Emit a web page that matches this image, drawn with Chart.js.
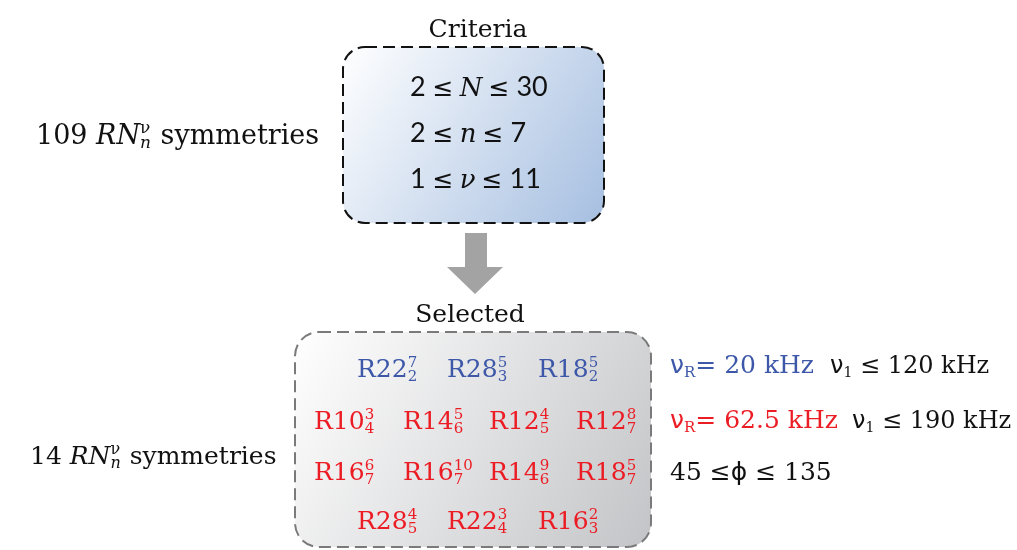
<!DOCTYPE html>
<html>
<head>
<meta charset="utf-8">
<script src="https://cdn.jsdelivr.net/npm/chart.js@4.4.1/dist/chart.umd.min.js"></script>
<style>
  body { margin: 0; background: #fff; }
  #wrap { width: 1017px; height: 550px; }
</style>
</head>
<body>
<div id="wrap"><canvas id="c"></canvas></div>
<script>
// counts shown on the left
const totalCount = 109;
const selectedCount = 14;

// search criteria: lo <= symbol <= hi
const criteria = [
  { lo: 2, sym: 'N', hi: 30 },
  { lo: 2, sym: 'n', hi: 7 },
  { lo: 1, sym: 'ν', hi: 11 }
];

// selected RN_n^v symmetries  [N, n, v]
const blueSymmetries = [[22, 2, 7], [28, 3, 5], [18, 2, 5]];
const redSymmetries = [
  [10, 4, 3], [14, 6, 5], [12, 5, 4], [12, 7, 8],
  [16, 7, 6], [16, 7, 10], [14, 6, 9], [18, 7, 5],
  [28, 5, 4], [22, 4, 3], [16, 3, 2]
];

// MAS rate (kHz) and max rf amplitude (kHz)
const spinRates = ['20', '62.5'];
const rfLimits = ['120', '190'];
const phaseRange = [45, 135];

const BLUE = '#3d58a9';
const RED = '#ec1c24';
const SERIF = '"DejaVu Serif", serif';
const SANS = 'Lato, "DejaVu Sans", sans-serif';
const DVS = '"DejaVu Sans", sans-serif';

function runFont(r, size) {
  return (r.style || '') + ' ' + size + 'px ' + (r.fam || SERIF);
}

function runWidth(ctx, r) {
  if (r.sup !== undefined) {
    ctx.font = runFont(r, r.small);
    return Math.max(ctx.measureText(r.sup).width, ctx.measureText(r.sub).width) + 1;
  }
  ctx.font = runFont(r, r.size);
  return ctx.measureText(r.t).width;
}

function drawRuns(ctx, x, y, runs, align) {
  let w = 0;
  runs.forEach(r => { w += runWidth(ctx, r); });
  if (align === 'center') x -= w / 2;
  ctx.textBaseline = 'alphabetic';
  ctx.textAlign = 'left';
  runs.forEach(r => {
    const rw = runWidth(ctx, r);
    ctx.fillStyle = r.color || '#111';
    if (r.sup !== undefined) {
      ctx.font = runFont(r, r.small);
      ctx.fillText(r.sup, x, y - r.size * 0.42);
      ctx.font = runFont({ fam: r.subFam || r.fam, style: r.subStyle }, r.small);
      ctx.fillText(r.sub, x, y + r.size * 0.15);
    } else {
      ctx.font = runFont(r, r.size);
      ctx.fillText(r.t, x, y + (r.dy || 0));
    }
    x += rw;
  });
}

function roundBox(ctx, x0, y0, x1, y1, rad, fillA, fillB, stroke) {
  ctx.save();
  ctx.beginPath();
  ctx.moveTo(x0 + rad, y0);
  ctx.lineTo(x1 - rad, y0);
  ctx.arcTo(x1, y0, x1, y0 + rad, rad);
  ctx.lineTo(x1, y1 - rad);
  ctx.arcTo(x1, y1, x1 - rad, y1, rad);
  ctx.lineTo(x0 + rad, y1);
  ctx.arcTo(x0, y1, x0, y1 - rad, rad);
  ctx.lineTo(x0, y0 + rad);
  ctx.arcTo(x0, y0, x0 + rad, y0, rad);
  ctx.closePath();
  const g = ctx.createLinearGradient(x0, y0, x1, y1);
  g.addColorStop(0, fillA);
  g.addColorStop(1, fillB);
  ctx.fillStyle = g;
  ctx.fill();
  ctx.setLineDash([12, 6]);
  ctx.lineWidth = 2;
  ctx.strokeStyle = stroke;
  ctx.stroke();
  ctx.restore();
}

function countLabel(n, size) {
  return [
    { t: n + ' ', size: size },
    { t: 'RN', size: size, style: 'italic' },
    { sup: 'ν', sub: 'n', size: size, small: Math.round(size * 0.64), subStyle: 'italic' },
    { t: ' symmetries', size: size }
  ];
}

function symLabel(s, color) {
  return [
    { t: 'R' + s[0], size: 25, color: color },
    { sup: String(s[2]), sub: String(s[1]), size: 25, small: 15, color: color }
  ];
}

const diagram = {
  id: 'diagram',
  afterDraw(chart) {
    const ctx = chart.ctx;
    const xs = chart.scales.x, ys = chart.scales.y;
    const X = v => xs.getPixelForValue(v);
    const Y = v => ys.getPixelForValue(v);

    // criteria box
    roundBox(ctx, X(343), Y(47), X(604), Y(223), 22, '#ffffff', '#a6bfe1', '#111');
    drawRuns(ctx, X(478), Y(37), [{ t: 'Criteria', size: 25 }], 'center');
    criteria.forEach((c, i) => {
      drawRuns(ctx, X(410), Y(96 + i * 46), [
        { t: c.lo + ' ', size: 27, fam: SANS },
        { t: '≤', size: 25, fam: DVS },
        { t: ' ', size: 24, fam: SANS },
        { t: c.sym, size: 26, fam: SERIF, style: 'italic' },
        { t: ' ', size: 24, fam: SANS },
        { t: '≤', size: 25, fam: DVS },
        { t: ' ' + c.hi, size: 27, fam: SANS }
      ]);
    });
    drawRuns(ctx, X(36), Y(144), countLabel(totalCount, 27));

    // arrow
    ctx.save();
    ctx.fillStyle = '#a3a3a3';
    ctx.beginPath();
    ctx.moveTo(X(465), Y(233));
    ctx.lineTo(X(487), Y(233));
    ctx.lineTo(X(487), Y(267));
    ctx.lineTo(X(503), Y(267));
    ctx.lineTo(X(475), Y(294));
    ctx.lineTo(X(447), Y(267));
    ctx.lineTo(X(465), Y(267));
    ctx.closePath();
    ctx.fill();
    ctx.restore();

    // selected box
    drawRuns(ctx, X(470), Y(322), [{ t: 'Selected', size: 25 }], 'center');
    roundBox(ctx, X(295), Y(332), X(651), Y(547), 24, '#ffffff', '#c3c4c7', '#7a7a7a');
    drawRuns(ctx, X(30), Y(464), countLabel(selectedCount, 25));

    const colsWide = [357, 447, 538];
    const colsFour = [314, 403, 489, 576];
    blueSymmetries.forEach((s, i) => {
      drawRuns(ctx, X(colsWide[i]), Y(377), symLabel(s, BLUE));
    });
    redSymmetries.forEach((s, i) => {
      let x, y;
      if (i < 8) { x = colsFour[i % 4]; y = i < 4 ? 429 : 480; }
      else { x = colsWide[i - 8]; y = 529; }
      drawRuns(ctx, X(x), Y(y), symLabel(s, RED));
    });

    // conditions
    spinRates.forEach((r, i) => {
      const color = i === 0 ? BLUE : RED;
      const y = Y(i === 0 ? 373 : 428);
      drawRuns(ctx, X(670), y, [
        { t: 'ν', size: 25, fam: DVS, color: color },
        { t: 'R', size: 15, color: color, dy: 4 },
        { t: '= ' + r + ' kHz', size: 25, color: color }
      ]);
      drawRuns(ctx, X(i === 0 ? 830 : 852), y, [
        { t: 'ν', size: 24, fam: DVS },
        { t: '1', size: 14, dy: 4 },
        { t: ' ≤ ' + rfLimits[i] + ' kHz', size: 24 }
      ]);
    });
    drawRuns(ctx, X(670), Y(480), [
      { t: phaseRange[0] + ' ≤', size: 25 },
      { t: 'ϕ', size: 25, fam: DVS },
      { t: ' ≤ ' + phaseRange[1], size: 25 }
    ]);
  }
};

new Chart(document.getElementById('c'), {
  type: 'scatter',
  data: { datasets: [{ data: [], pointRadius: 0 }] },
  options: {
    responsive: true,
    maintainAspectRatio: false,
    animation: false,
    layout: { padding: 0 },
    plugins: { legend: { display: false }, tooltip: { enabled: false } },
    scales: {
      x: { type: 'linear', min: 0, max: 1017, display: false },
      y: { type: 'linear', min: 0, max: 550, reverse: true, display: false }
    }
  },
  plugins: [diagram]
});
</script>
</body>
</html>
